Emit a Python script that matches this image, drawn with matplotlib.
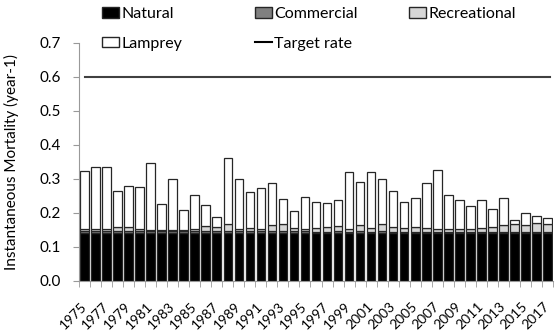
import matplotlib
matplotlib.use("Agg")
import matplotlib.pyplot as plt
import numpy as np
from matplotlib.patches import Patch
from matplotlib.lines import Line2D

plt.rcParams["font.family"] = ["Lato", "DejaVu Sans"]

years = list(range(1975, 2018))

# total instantaneous mortality
total = [0.323, 0.335, 0.335, 0.265, 0.278, 0.275, 0.346, 0.225, 0.301, 0.208,
         0.252, 0.222, 0.188, 0.362, 0.301, 0.260, 0.272, 0.289, 0.241, 0.206,
         0.247, 0.231, 0.228, 0.237, 0.320, 0.291, 0.319, 0.301, 0.264, 0.231,
         0.245, 0.288, 0.325, 0.252, 0.239, 0.220, 0.239, 0.212, 0.244, 0.178,
         0.201, 0.190, 0.186]
natural = [0.140] * 43
commercial = [0.008, 0.008, 0.008, 0.008, 0.008, 0.007, 0.006, 0.006, 0.006, 0.006,
              0.006, 0.006, 0.006, 0.007, 0.006, 0.006, 0.006, 0.006, 0.006, 0.006,
              0.006, 0.005, 0.005, 0.006, 0.005, 0.006, 0.005, 0.006, 0.005, 0.005,
              0.005, 0.005, 0.004, 0.004, 0.004, 0.004, 0.004, 0.004, 0.004, 0.004,
              0.004, 0.004, 0.004]
recreational = [0.006, 0.006, 0.006, 0.010, 0.010, 0.006, 0.005, 0.005, 0.005, 0.005,
                0.006, 0.016, 0.014, 0.020, 0.008, 0.010, 0.008, 0.018, 0.022, 0.010,
                0.008, 0.010, 0.014, 0.016, 0.008, 0.018, 0.010, 0.022, 0.014, 0.012,
                0.014, 0.010, 0.008, 0.008, 0.010, 0.008, 0.012, 0.016, 0.020, 0.022,
                0.020, 0.026, 0.024]
lamprey = [t - n - c - r for t, n, c, r in zip(total, natural, commercial, recreational)]
target_rate = 0.6

x = np.arange(len(years))
natural = np.array(natural)
commercial = np.array(commercial)
recreational = np.array(recreational)
lamprey = np.array(lamprey)

fig = plt.figure(figsize=(5.56, 3.35), dpi=100)
ax = fig.add_axes([79 / 556, 54 / 335, 474 / 556, 238.3 / 335])

edge = "#262626"
bar_kw = dict(width=0.78, edgecolor=edge, linewidth=0.9)
ax.bar(x, natural, color="black", **bar_kw)
ax.bar(x, commercial, bottom=natural, color="#808080", **bar_kw)
ax.bar(x, recreational, bottom=natural + commercial, color="#d6d6d6", **bar_kw)
ax.bar(x, lamprey, bottom=natural + commercial + recreational, color="white", **bar_kw)
ax.plot([0.0, len(years) - 0.8], [target_rate, target_rate], color="#404040", lw=1.5)

ax.set_xlim(-0.5, len(years) - 0.5)
ax.set_ylim(0, 0.7)
yt = np.arange(0, 0.71, 0.1)
ax.set_yticks(yt)
ax.set_yticklabels([f"{v:.1f}" for v in yt], fontsize=11)
ax.set_xticks(x[::2])
ax.set_xticklabels([str(y) for y in years[::2]], rotation=45, ha="right",
                   va="center", rotation_mode="anchor", fontsize=10)
ax.tick_params(axis="x", which="major", length=0, pad=17)
ax.set_xticks(np.arange(-0.5, len(years)), minor=True)
ax.tick_params(axis="x", which="minor", length=4, color="#999999")
ax.tick_params(axis="y", length=4, color="#999999", direction="out", pad=9)
for s in ["top", "right"]:
    ax.spines[s].set_visible(False)
for s in ["left", "bottom"]:
    ax.spines[s].set_color("#999999")
ax.set_ylabel("Instantaneous Mortality (year-1)", fontsize=11)
ax.yaxis.set_label_coords(-60 / 474, 0.5)

cols = [
    [Patch(facecolor="black", edgecolor=edge, label="Natural"),
     Patch(facecolor="white", edgecolor=edge, label="Lamprey")],
    [Patch(facecolor="#808080", edgecolor=edge, label="Commercial"),
     Line2D([], [], color="black", lw=1.5, label="Target rate")],
    [Patch(facecolor="#d6d6d6", edgecolor=edge, label="Recreational")],
]
for xpos, handles in zip([102, 255, 409], cols):
    fig.legend(handles=handles, loc="upper left",
               bbox_to_anchor=(xpos / 556, 0.978), frameon=False, fontsize=11.5,
               handlelength=1.05, handleheight=0.65, handletextpad=0.15,
               labelspacing=0.95, borderpad=0, borderaxespad=0)

fig.savefig("out.png", dpi=100)
